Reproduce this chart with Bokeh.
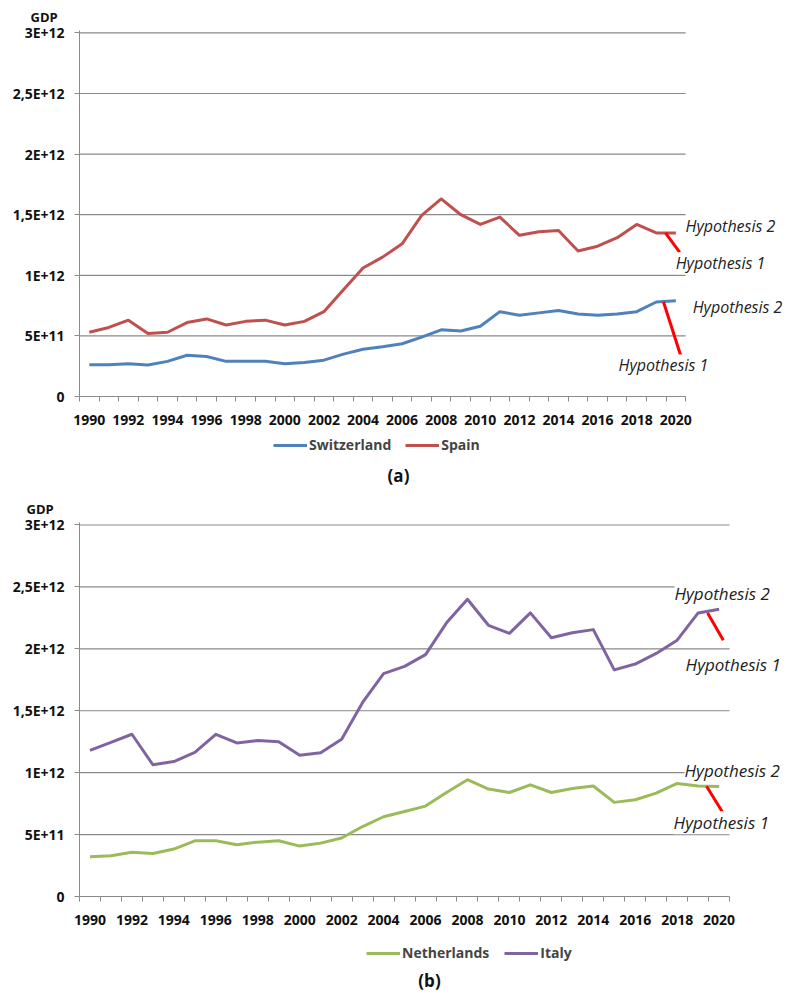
from bokeh.plotting import figure
from bokeh.models import FixedTicker, Legend, LegendItem, Label, Title, Range1d
from bokeh.layouts import column
from bokeh.embed import file_html
from bokeh.resources import INLINE

# ---------------- data ----------------
years = list(range(1990, 2021))

switzerland = [2.62e11, 2.62e11, 2.70e11, 2.60e11, 2.90e11, 3.40e11, 3.30e11, 2.90e11, 2.90e11, 2.90e11,
               2.70e11, 2.80e11, 3.00e11, 3.50e11, 3.90e11, 4.10e11, 4.35e11, 4.90e11, 5.50e11, 5.40e11,
               5.80e11, 7.00e11, 6.70e11, 6.90e11, 7.10e11, 6.80e11, 6.70e11, 6.80e11, 7.00e11, 7.80e11,
               7.90e11]
spain = [5.30e11, 5.70e11, 6.30e11, 5.20e11, 5.30e11, 6.10e11, 6.40e11, 5.90e11, 6.20e11, 6.30e11,
         5.90e11, 6.20e11, 7.00e11, 8.80e11, 1.06e12, 1.15e12, 1.26e12, 1.495e12, 1.63e12, 1.50e12,
         1.42e12, 1.48e12, 1.33e12, 1.36e12, 1.37e12, 1.20e12, 1.24e12, 1.31e12, 1.42e12, 1.35e12,
         1.35e12]
netherlands = [3.20e11, 3.29e11, 3.58e11, 3.47e11, 3.83e11, 4.50e11, 4.50e11, 4.18e11, 4.39e11, 4.50e11,
               4.07e11, 4.31e11, 4.72e11, 5.65e11, 6.44e11, 6.87e11, 7.30e11, 8.40e11, 9.43e11, 8.68e11,
               8.40e11, 9.02e11, 8.40e11, 8.72e11, 8.92e11, 7.60e11, 7.81e11, 8.35e11, 9.13e11, 8.92e11,
               8.89e11]
italy = [1.18e12, 1.245e12, 1.31e12, 1.064e12, 1.09e12, 1.163e12, 1.31e12, 1.24e12, 1.26e12, 1.25e12,
         1.14e12, 1.16e12, 1.27e12, 1.567e12, 1.80e12, 1.858e12, 1.953e12, 2.21e12, 2.40e12, 2.19e12,
         2.125e12, 2.29e12, 2.09e12, 2.13e12, 2.155e12, 1.83e12, 1.877e12, 1.963e12, 2.07e12, 2.29e12,
         2.32e12]

# "Hypothesis 1" drop lines (hand-drawn red strokes)
hyp1_x_ch, hyp1_ch = [2019.37, 2020.33], [7.80e11, 2.97e11]
hyp1_x_es, hyp1_es = [2019.47, 2020.2], [1.35e12, 1.19e12]
hyp1_x_it, hyp1_it = [2019.45, 2020.2], [2.29e12, 2.07e12]
hyp1_x_nl, hyp1_nl = [2019.4, 2020.15], [8.90e11, 6.84e11]

yticks = [0, 5e11, 1e12, 1.5e12, 2e12, 2.5e12, 3e12]
ylabels = ["0", "5E+11", "1E+12", "1,5E+12", "2E+12", "2,5E+12", "3E+12"]
xlabel_years = list(range(1990, 2021, 2))
boundaries = [y - 0.5 for y in range(1990, 2022)]

FONT = "Open Sans"
GRID = "#8a8a8a"
C_CH, C_ES, C_NL, C_IT, C_RED = "#4F81BD", "#C0504D", "#9BBB59", "#8064A2", "#FF0000"
NAN = float("nan")


def make_fig(frame_w, frame_h, x_end, left, top, bottom, gdp_offset):
    p = figure(frame_width=frame_w, frame_height=frame_h, min_border_left=left, min_border_right=1,
               min_border_top=top, min_border_bottom=bottom,
               x_range=Range1d(1989.5, x_end), y_range=Range1d(0, 3.02e12),
               output_backend="svg", toolbar_location=None)
    p.outline_line_color = None
    p.grid.visible = False
    p.segment(x0=boundaries[0], x1=boundaries[-1], y0=yticks[1:], y1=yticks[1:],
              line_color=GRID, line_width=1.2)
    ya = p.yaxis[0]
    ya.ticker = FixedTicker(ticks=yticks)
    ya.major_label_overrides = {float(t): l for t, l in zip(yticks, ylabels)}
    ya.axis_line_color = GRID
    ya.major_tick_line_color = GRID
    ya.major_tick_out = 5
    ya.major_tick_in = 0
    ya.minor_tick_line_color = None
    ya.major_label_standoff = 10
    xa = p.xaxis[0]
    xa.ticker = FixedTicker(ticks=xlabel_years, minor_ticks=boundaries)
    xa.bounds = (boundaries[0], boundaries[-1])
    xa.axis_line_color = GRID
    xa.axis_line_width = 1.2
    xa.major_tick_line_color = None
    xa.major_tick_out = 5
    xa.major_tick_in = 0
    xa.minor_tick_line_color = GRID
    xa.minor_tick_out = 5
    xa.minor_tick_in = 0
    xa.major_label_standoff = 13
    for ax in (xa, ya):
        ax.major_label_text_font = FONT
        ax.major_label_text_font_style = "bold"
        ax.major_label_text_font_size = "14px"
        ax.major_label_text_color = "#111111"
    # axis caption "GDP" above the value axis
    p.add_layout(Title(text="GDP", align="left", offset=gdp_offset, text_font=FONT, standoff=9,
                       text_font_style="bold", text_font_size="13px", text_color="#111111"), "above")
    return p


def hyp_label(p, x, y, text, size):
    p.add_layout(Label(x=x, y=y, text=text, text_font=FONT, text_font_style="italic",
                       text_font_size=size, text_baseline="middle", text_align="left",
                       text_color="#222222", background_fill_color="white"))


def footer(left, frame_w, height, names, colors, leg_x, leg_y, spacing, caption, cap_x, cap_y):
    # frame aligned with the chart above; data x equals canvas pixels
    f = figure(frame_width=frame_w, frame_height=height, min_border_left=left, min_border_right=1,
               min_border_top=0, min_border_bottom=0,
               x_range=Range1d(left, left + frame_w), y_range=Range1d(0, height),
               x_axis_type=None, y_axis_type=None,
               output_backend="svg", toolbar_location=None)
    f.outline_line_color = None
    f.grid.visible = False
    items = []
    for n, c in zip(names, colors):
        r = f.line(x=[NAN, NAN], y=[NAN, NAN], line_color=c, line_width=3)
        items.append(LegendItem(label=n, renderers=[r]))
    f.add_layout(Legend(items=items, orientation="horizontal", location=(leg_x - left, leg_y),
                        label_text_font=FONT, label_text_font_style="bold", label_text_font_size="14px",
                        glyph_width=34, glyph_height=14, label_standoff=2, spacing=spacing,
                        padding=0, margin=0, border_line_color=None, background_fill_alpha=0))
    f.add_layout(Label(x=cap_x, y=cap_y, text=caption, text_font=FONT, text_font_style="bold",
                       text_font_size="17px", text_align="center", text_baseline="middle",
                       text_color="#111111"))
    return f


# ---------------- (a) ----------------
p1 = make_fig(707, 366, 2025.66, 79, 30, 38, -49)
p1.line(years, switzerland, line_color=C_CH, line_width=3, line_join="round")
p1.line(years, spain, line_color=C_ES, line_width=3, line_join="round")
p1.line(hyp1_x_ch, hyp1_ch, line_color=C_RED, line_width=3)
p1.line(hyp1_x_es, hyp1_es, line_color=C_RED, line_width=3)
hyp_label(p1, 2020.5, 1.405e12, "Hypothesis 2", "16px")
hyp_label(p1, 2019.99, 1.099e12, "Hypothesis 1", "16px")
hyp_label(p1, 2020.86, 7.36e11, "Hypothesis 2", "16px")
hyp_label(p1, 2017.07, 2.56e11, "Hypothesis 1", "16px")
f1 = footer(79, 707, 56, ["Switzerland", "Spain"], [C_CH, C_ES], 273, 36, 14, "(a)", 398, 15)

# ---------------- (b) ----------------
p2 = make_fig(708, 374, 2023.26, 78, 32, 38, -53)
p2.line(years, netherlands, line_color=C_NL, line_width=3, line_join="round")
p2.line(years, italy, line_color=C_IT, line_width=3, line_join="round")
p2.line(hyp1_x_it, hyp1_it, line_color=C_RED, line_width=3)
p2.line(hyp1_x_nl, hyp1_nl, line_color=C_RED, line_width=3)
hyp_label(p2, 2017.87, 2.445e12, "Hypothesis 2", "17px")
hyp_label(p2, 2018.4, 1.872e12, "Hypothesis 1", "17px")
hyp_label(p2, 2018.35, 1.015e12, "Hypothesis 2", "17px")
hyp_label(p2, 2017.83, 5.95e11, "Hypothesis 1", "17px")
f2 = footer(78, 708, 59, ["Netherlands", "Italy"], [C_NL, C_IT], 365, 31, 15, "(b)", 428, 13)

layout = column(p1, f1, p2, f2, spacing=0)
open("out.html", "w").write(file_html(layout, INLINE))
